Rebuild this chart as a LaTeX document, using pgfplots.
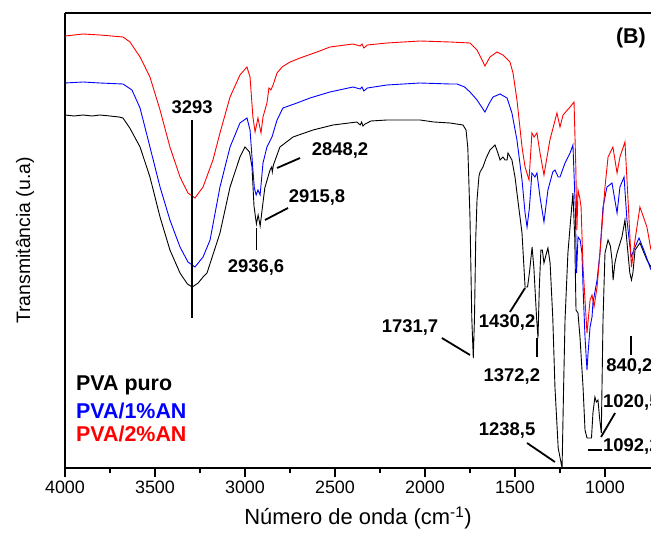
\documentclass[border=0pt]{standalone}
\usepackage{fontspec}
\setmainfont{Liberation Sans}
\usepackage{pgfplots}
\pgfplotsset{compat=1.18}
\begin{document}
\begin{tikzpicture}
\begin{axis}[
name=ax,
scale only axis,
width=586bp, height=455bp,
xmin=744.4, xmax=4000, x dir=reverse,
ymin=0, ymax=455,
axis x line*=box, axis y line*=left,
xtick pos=left,
axis line style={line width=1.4bp},
xtick={1000,1500,2000,2500,3000,3500,4000},
minor x tick num=1,
ytick=\empty,
tick align=outside,
major tick length=9bp, minor tick length=5bp,
every tick/.style={black, line width=1.2bp},
xticklabel style={font=\fontsize{18}{20}\selectfont},
/pgf/number format/assume math mode=true,
/pgf/number format/set thousands separator={},
xlabel={Número de onda (cm\textsuperscript{-1})},
xlabel style={font=\fontsize{22}{26}\selectfont, at={(axis description cs:0.5,-0.11)}, anchor=center},
ylabel={Transmitância (u.a)},
ylabel style={font=\fontsize{19.5}{22}\selectfont, at={(axis description cs:-0.068,0.5)}, anchor=center},
every node/.style={inner sep=0pt},
]
% PVA puro
\addplot[black, line width=0.9bp] coordinates {
(4000,353) (3950,352) (3900,353) (3850,352) (3806,353) (3750,352) (3700,351) (3678,350) (3640,340) (3583,321) (3528,291) (3472,251) (3417,218) (3361,195) (3320,184) (3293,181) (3260,185) (3233,191) (3211,195) (3139,235) (3083,281) (3028,311) (3000,321) (2975,316) (2961,301) (2950,262) (2936.6,244) (2927,253) (2915.8,242) (2905,258) (2890,280) (2861,298) (2852,301) (2848.2,296) (2842,303) (2806,321) (2733,331) (2622,338) (2511,343) (2378,346) (2360,343) (2352,346) (2345,342) (2333,344) (2300,347) (2211,348) (2100,348) (2028,348) (1950,346) (1861,345) (1789,343) (1772,338) (1762,320) (1750,250) (1740,150) (1731.7,110) (1725,150) (1718,230) (1711,268) (1700,292) (1694,296) (1678,301) (1660,310) (1639,318) (1611,323) (1595,315) (1583,308) (1567,311) (1555,308) (1544,308) (1539,315) (1517,308) (1500,291) (1480,262) (1461,235) (1444,181) (1430.2,181) (1420,195) (1405,221) (1395,200) (1380,150) (1372.2,130) (1365,180) (1356,218) (1348,218) (1339,205) (1325,215) (1317,220) (1305,205) (1290,150) (1278,81) (1260,20) (1238.5,0) (1230,80) (1222,148) (1206,215) (1190,250) (1178,275) (1168,230) (1161,158) (1150,155) (1139,131) (1122,81) (1111,38) (1100,30) (1092.2,30) (1075,30) (1067,55) (1056,71) (1048,66) (1039,68) (1030,50) (1020.5,35) (1011,148) (1000,215) (983,228) (970,222) (961,208) (955,188) (945,205) (933,215) (906,231) (889,248) (875,220) (862,195) (853,188) (845,195) (833,218) (806,225) (767,208) (744.4,201)
};
% PVA/1%AN
\addplot[blue, line width=0.9bp] coordinates {
(4000,385) (3900,386) (3806,385) (3678,384) (3628,378) (3583,360) (3528,321) (3472,281) (3417,248) (3361,221) (3317,206) (3278,201) (3233,211) (3194,228) (3139,281) (3083,321) (3028,345) (2989,350) (2972,338) (2956,298) (2948,280) (2938,273) (2928,278) (2916,273) (2900,305) (2878,321) (2850,331) (2822,348) (2789,360) (2711,365) (2639,370) (2528,376) (2400,381) (2360,379) (2350,381) (2340,377) (2320,380) (2211,383) (2028,385) (1861,384) (1822,384) (1780,381) (1750,376) (1711,368) (1667,356) (1645,364) (1622,371) (1583,374) (1544,370) (1517,355) (1489,328) (1461,288) (1444,255) (1433,241) (1420,260) (1406,295) (1389,291) (1378,295) (1361,271) (1339,246) (1317,278) (1290,296) (1278,298) (1260,291) (1250,291) (1222,305) (1194,315) (1178,323) (1165,260) (1158,195) (1150,231) (1138,228) (1128,215) (1122,181) (1111,131) (1100,98) (1094,115) (1083,141) (1072,151) (1067,165) (1044,188) (1028,215) (1011,261) (989,281) (961,285) (933,255) (917,281) (894,291) (878,248) (855,211) (833,221) (811,230) (778,215) (744.4,198)
};
% PVA/2%AN
\addplot[red, line width=0.9bp] coordinates {
(4000,432) (3900,434) (3806,433) (3678,431) (3639,426) (3583,411) (3528,391) (3472,358) (3417,321) (3361,291) (3317,275) (3278,270) (3233,281) (3178,308) (3139,335) (3083,371) (3028,393) (2989,401) (2972,391) (2956,351) (2944,336) (2928,350) (2911,335) (2900,351) (2878,365) (2867,380) (2856,378) (2844,383) (2822,395) (2794,401) (2750,406) (2694,410) (2600,416) (2528,421) (2400,424) (2360,422) (2350,424) (2340,420) (2320,423) (2211,425) (2028,427) (1861,426) (1750,425) (1711,418) (1683,408) (1667,402) (1639,411) (1600,416) (1567,413) (1528,406) (1511,395) (1489,368) (1461,321) (1444,301) (1422,288) (1406,335) (1394,331) (1378,335) (1361,315) (1339,293) (1306,328) (1267,355) (1250,341) (1233,353) (1194,361) (1172,366) (1162,300) (1156,238) (1150,278) (1140,270) (1133,261) (1122,201) (1100,135) (1083,168) (1072,173) (1061,161) (1044,181) (1028,215) (1000,281) (983,311) (956,321) (933,295) (917,311) (889,326) (872,268) (853,201) (833,228) (806,261) (767,241) (744.4,218)
};
% legend text
\begin{scope}[every node/.style={inner sep=0pt, anchor=west, font=\bfseries\fontsize{21.5}{24}\selectfont}]
\node[text=black] at (axis cs:3939,83) {PVA puro};
\node[text=blue] at (axis cs:3939,57) {PVA/1\%AN};
\node[text=red] at (axis cs:3939,34) {PVA/2\%AN};
\end{scope}
\node[font=\bfseries\fontsize{21.5}{24}\selectfont] at (axis cs:856,430) {(B)};
% peak annotations
\begin{scope}[every node/.style={inner sep=0pt, font=\bfseries\fontsize{18.5}{20}\selectfont}]
\draw[line width=1.8bp] (axis cs:3293,348) -- (axis cs:3293,150);
\node at (axis cs:3294,361) {3293};
\draw[line width=1.8bp] (axis cs:2936.6,240) -- (axis cs:2936.6,218);
\node at (axis cs:2939,201) {2936,6};
\draw[line width=1.8bp] (axis cs:2889,248) -- (axis cs:2761,260);
\node at (axis cs:2600,271) {2915,8};
\draw[line width=1.8bp] (axis cs:2822,300) -- (axis cs:2694,310);
\node at (axis cs:2472,318) {2848,2};
\draw[line width=1.8bp] (axis cs:1906,130) -- (axis cs:1750,113);
\node at (axis cs:2083,141) {1731,7};
\draw[line width=1.8bp] (axis cs:1528,156) -- (axis cs:1444,180);
\node at (axis cs:1544,146) {1430,2};
\draw[line width=1.8bp] (axis cs:1378,130) -- (axis cs:1378,111);
\node at (axis cs:1517,92) {1372,2};
\draw[line width=1.8bp] (axis cs:1433,25) -- (axis cs:1278,6);
\node at (axis cs:1544,38) {1238,5};
\draw[line width=1.8bp] (axis cs:1094,18) -- (axis cs:1017,18);
\node[anchor=west] at (axis cs:1011,22) {1092,2};
\draw[line width=1.8bp] (axis cs:1022,31) -- (axis cs:944,55);
\node[anchor=west] at (axis cs:1011,66) {1020,5};
\draw[line width=1.8bp] (axis cs:855,132) -- (axis cs:855,113);
\node[anchor=west] at (axis cs:994,102) {840,2};
\end{scope}
\end{axis}
\pgfresetboundingbox
\path[use as bounding box] ([xshift=-65bp,yshift=-69bp]ax.south west) rectangle ([yshift=13bp]ax.north east);
\end{tikzpicture}
\end{document}
